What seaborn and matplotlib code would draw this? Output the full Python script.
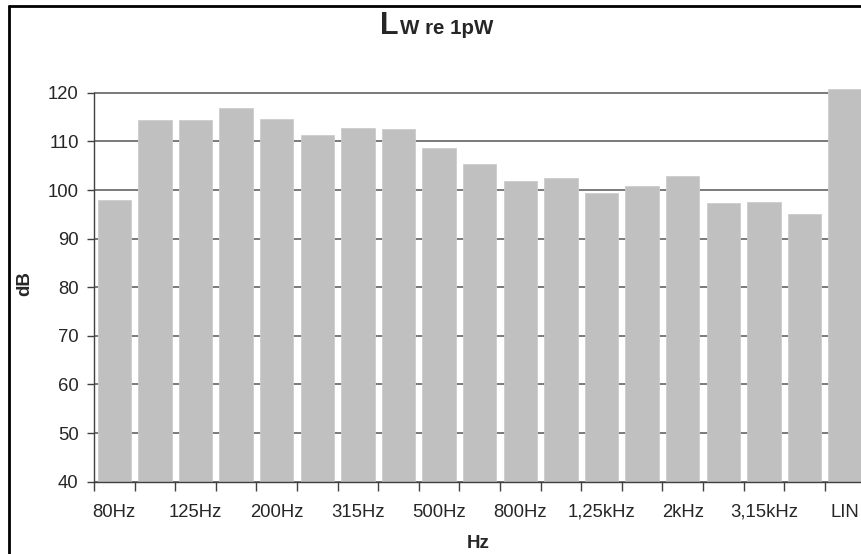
import matplotlib
matplotlib.use("Agg")
import matplotlib.pyplot as plt
from matplotlib.lines import Line2D
import seaborn as sns
import numpy as np
import pandas as pd

# third-octave bands and sound power level (dB re 1pW)
bands = ["80Hz", "100Hz", "125Hz", "160Hz", "200Hz", "250Hz", "315Hz", "400Hz",
         "500Hz", "630Hz", "800Hz", "1kHz", "1,25kHz", "1,6kHz", "2kHz", "2,5kHz",
         "3,15kHz", "4kHz", "LIN"]
levels = [97.9, 114.5, 114.5, 116.8, 114.7, 111.4, 112.7, 112.5, 108.6, 105.4,
          101.8, 102.5, 99.4, 100.8, 102.8, 97.4, 97.6, 95.0, 120.8]
yticks = [40, 50, 60, 70, 80, 90, 100, 110, 120]

sns.set_style("white")
plt.rcParams["font.family"] = ["Liberation Sans", "DejaVu Sans"]

df = pd.DataFrame({"band": bands, "level": levels})

fig = plt.figure(figsize=(8.62, 5.54), dpi=100)
ax = fig.add_axes([94 / 862, 72.3 / 554, 771.4 / 862, 393.7 / 554])

sns.barplot(data=df, x="band", y="level", color="#c0c0c0", saturation=1,
            width=0.82, ax=ax, zorder=2, edgecolor="#cccccc", linewidth=0.6)

ax.set_ylim(40, 121)
ax.set_xlim(-0.5, len(bands) - 0.5)
ax.set_yticks(yticks)
ax.yaxis.grid(True, color="#707070", lw=1.3, zorder=0)
ax.set_axisbelow(True)

# ticks between the bars, labels on every other band
ax.set_xticks(np.arange(-0.5, len(bands), 1))
ax.set_xticklabels([])
ax.set_xticks(np.arange(0, len(bands), 2), minor=True)
ax.set_xticklabels(bands[::2], minor=True)
ax.tick_params(axis="x", which="major", length=6.5, width=1, color="#404040",
               bottom=True, direction="out")
ax.tick_params(axis="x", which="minor", length=0, pad=16, labelsize=13.3)
ax.tick_params(axis="y", length=5, width=1, color="#404040", left=True,
               direction="out", pad=6, labelsize=13.3)

for s in ["top", "right"]:
    ax.spines[s].set_visible(False)
for s in ["left", "bottom"]:
    ax.spines[s].set_color("#404040")
    ax.spines[s].set_linewidth(1)
ax.spines["left"].set_bounds(40, 120)

ax.set_xlabel("")
ax.set_ylabel("")
fig.text(478 / 862, 1 - 543 / 554, "Hz", ha="center", va="center",
         fontsize=13.5, fontweight="bold")
fig.text(25 / 862, 1 - 284 / 554, "dB", ha="center", va="center",
         rotation=90, fontsize=13.5, fontweight="bold")

# title: big L with smaller subscript-like text
fig.text(380 / 862, 1 - 34.3 / 554, "L", ha="left", va="baseline",
         fontsize=22, fontweight="bold")
fig.text(400 / 862, 1 - 34.3 / 554, "W re 1pW", ha="left", va="baseline",
         fontsize=14.8, fontweight="bold")

# chart frame (left and top edges visible)
fig.add_artist(Line2D([9 / 862, 9 / 862], [0, 1 - 5.5 / 554], color="black",
                      lw=2, transform=fig.transFigure))
fig.add_artist(Line2D([9 / 862, 1], [1 - 5.5 / 554, 1 - 5.5 / 554], color="black",
                      lw=2, transform=fig.transFigure))

fig.savefig("out.png", dpi=100)
